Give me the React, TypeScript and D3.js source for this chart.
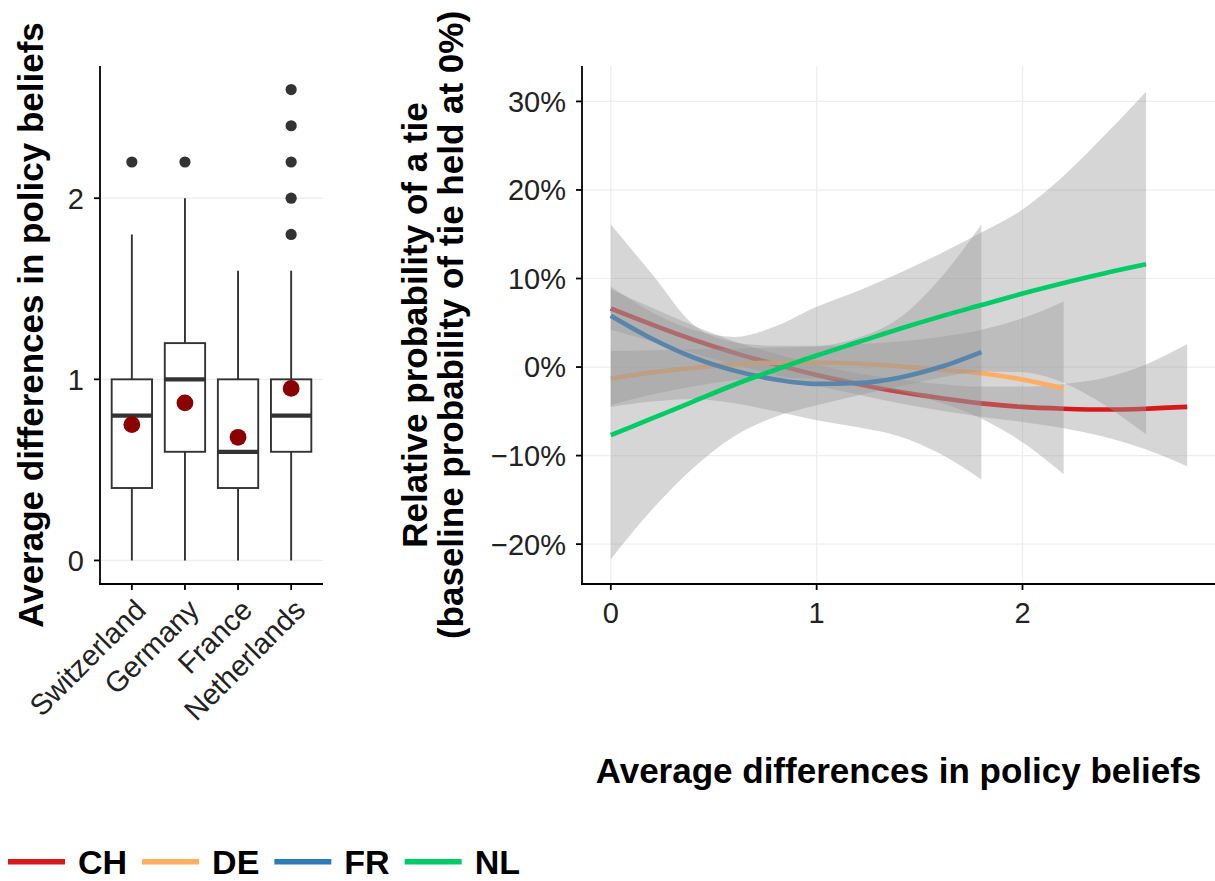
import React from "react";
import * as d3 from "d3";

// ---- left panel: boxplots ----
const countries = ["Switzerland", "Germany", "France", "Netherlands"];
const boxQ1 = [0.4, 0.6, 0.4, 0.6];
const boxMedian = [0.8, 1.0, 0.6, 0.8];
const boxQ3 = [1.0, 1.2, 1.0, 1.0];
const whiskerLow = [0, 0, 0, 0];
const whiskerHigh = [1.8, 2.0, 1.6, 1.6];
const outliers = [[2.2], [2.2], [], [1.8, 2.0, 2.2, 2.4, 2.6]];
const means = [0.75, 0.87, 0.68, 0.95];
const leftTicks = [0, 1, 2];

// ---- right panel: smoothed fits ----
const seriesNames = ["CH", "DE", "FR", "NL"];
const seriesColors = ["#D7191C", "#FDAE61", "#2C7BB6", "#00CC66"];

const xCH = [0, 0.2, 0.4, 0.6, 0.8, 1.0, 1.2, 1.4, 1.6, 1.8, 2.0, 2.2, 2.4, 2.6, 2.8];
const fitCH = [6.6, 4.8, 3.1, 1.6, 0.3, -0.9, -1.9, -2.8, -3.5, -4.1, -4.5, -4.7, -4.8, -4.7, -4.5];
const lowCH = [4.2, 2.9, 1.6, 0.3, -0.9, -2.1, -3.1, -4.1, -4.9, -5.6, -6.2, -6.9, -7.9, -9.3, -11.2];
const highCH = [8.8, 6.7, 4.7, 2.9, 1.5, 0.3, -0.7, -1.4, -1.9, -2.2, -2.2, -1.9, -1.2, 0.3, 2.6];

const xDE = [0, 0.2, 0.4, 0.6, 0.8, 1.0, 1.2, 1.4, 1.6, 1.8, 2.0, 2.2];
const fitDE = [-1.3, -0.6, -0.1, 0.3, 0.5, 0.5, 0.4, 0.1, -0.3, -0.7, -1.4, -2.4];
const lowDE = [-4.3, -3.1, -2.2, -1.5, -1.2, -1.3, -1.8, -2.7, -4.0, -5.8, -8.5, -12.1];
const highDE = [1.8, 1.9, 2.0, 2.1, 2.2, 2.3, 2.6, 2.9, 3.4, 4.2, 5.5, 7.4];

const xFR = [0, 0.2, 0.4, 0.6, 0.8, 1.0, 1.2, 1.4, 1.6, 1.8];
const fitFR = [5.8, 3.2, 1.1, -0.4, -1.4, -1.9, -1.8, -1.2, 0.0, 1.7];
const lowFR = [-4.5, -3.9, -3.6, -4.1, -5.0, -6.0, -6.8, -7.8, -9.8, -12.7];
const highFR = [16.1, 10.5, 4.8, 2.8, 2.4, 2.4, 3.3, 5.5, 10.0, 16.1];

const xNL = [0, 0.2, 0.4, 0.6, 0.8, 1.0, 1.2, 1.4, 1.6, 1.8, 2.0, 2.2, 2.4, 2.6];
const fitNL = [-7.7, -5.8, -3.9, -2.0, -0.3, 1.3, 2.8, 4.3, 5.7, 7.0, 8.3, 9.5, 10.6, 11.6];
const lowNL = [-21.7, -16.1, -11.4, -7.8, -5.6, -4.3, -3.2, -2.2, -1.2, -0.5, -0.6, -1.8, -4.3, -7.6];
const highNL = [9.1, 6.2, 4.2, 3.4, 4.6, 6.8, 8.6, 10.6, 12.8, 15.2, 17.8, 21.6, 26.2, 31.1];

const rightXTicks = [0, 1, 2];
const rightYTicks = [-20, -10, 0, 10, 20, 30];

const FONT = "'Liberation Sans', Arial, Helvetica, sans-serif";

type Row = { x: number; fit: number; lo: number; hi: number };

const zipSeries = (xs: number[], fit: number[], lo: number[], hi: number[]): Row[] =>
  xs.map((x, i) => ({ x, fit: fit[i], lo: lo[i], hi: hi[i] }));

const series = [
  zipSeries(xCH, fitCH, lowCH, highCH),
  zipSeries(xDE, fitDE, lowDE, highDE),
  zipSeries(xFR, fitFR, lowFR, highFR),
  zipSeries(xNL, fitNL, lowNL, highNL),
];

const pctLabel = (v: number) => (v < 0 ? "\u2212" + Math.abs(v) : String(v)) + "%";

// text width helper for the legend layout
const measure = (txt: string, font: string) => {
  const ctx = document.createElement("canvas").getContext("2d");
  if (!ctx) return txt.length * 20;
  ctx.font = font;
  return ctx.measureText(txt).width;
};

export default function App() {
  const W = 1215;
  const H = 881;
  const tickSize = 29;
  const titleSize = 35;
  const legendSize = 34;

  // left panel frame
  const lx0 = 100, lx1 = 323, top = 66, bottom = 584;
  const xL = d3.scaleLinear().domain([0.4, 4.6]).range([lx0, lx1]);
  const yL = d3.scaleLinear().domain([-0.13, 2.73]).range([bottom, top]);
  const boxHalf = 0.38;

  // right panel frame
  const rx0 = 582, rx1 = 1216;
  const xR = d3.scaleLinear().domain([-0.14, 2.94]).range([rx0, rx1]);
  const yR = d3.scaleLinear().domain([-24.5, 34]).range([bottom, top]);

  const area = d3
    .area<Row>()
    .x((d) => xR(d.x))
    .y0((d) => yR(d.lo))
    .y1((d) => yR(d.hi))
    .curve(d3.curveMonotoneX);
  const line = d3
    .line<Row>()
    .x((d) => xR(d.x))
    .y((d) => yR(d.fit))
    .curve(d3.curveMonotoneX);

  const grid = "#EDEDED";
  const ink = "#333333";

  // legend positions
  const legendFont = `bold ${legendSize}px 'Liberation Sans'`;
  const legendBase = 874;
  let lxPos = 8;
  const legendItems = seriesNames.map((s, i) => {
    const item = { s, i, x: lxPos };
    lxPos += 57 + 13 + measure(s, legendFont) + 15;
    return item;
  });

  return (
    <svg
      width={W}
      height={H}
      style={{ position: "absolute", left: 0, top: 0, background: "#fff" }}
      fontFamily={FONT}
    >
      {/* ===== left panel ===== */}
      {leftTicks.map((t) => (
        <line key={"lg" + t} x1={lx0} x2={lx1} y1={yL(t)} y2={yL(t)} stroke={grid} strokeWidth={1.2} />
      ))}
      {countries.map((c, i) => {
        const cx = xL(i + 1);
        const bx0 = xL(i + 1 - boxHalf);
        const bx1 = xL(i + 1 + boxHalf);
        return (
          <g key={c}>
            <line x1={cx} x2={cx} y1={yL(whiskerLow[i])} y2={yL(boxQ1[i])} stroke={ink} strokeWidth={1.9} />
            <line x1={cx} x2={cx} y1={yL(boxQ3[i])} y2={yL(whiskerHigh[i])} stroke={ink} strokeWidth={1.9} />
            <rect
              x={bx0}
              y={yL(boxQ3[i])}
              width={bx1 - bx0}
              height={yL(boxQ1[i]) - yL(boxQ3[i])}
              fill="#fff"
              stroke={ink}
              strokeWidth={1.9}
            />
            <line x1={bx0} x2={bx1} y1={yL(boxMedian[i])} y2={yL(boxMedian[i])} stroke={ink} strokeWidth={4.2} />
            {outliers[i].map((o) => (
              <circle key={o} cx={cx} cy={yL(o)} r={5.6} fill={ink} />
            ))}
            <circle cx={cx} cy={yL(means[i])} r={8.4} fill="#8B0000" />
          </g>
        );
      })}
      {/* left axes */}
      <line x1={lx0} x2={lx0} y1={top} y2={bottom + 0.9} stroke="#000" strokeWidth={1.8} />
      <line x1={lx0 - 0.9} x2={lx1} y1={bottom} y2={bottom} stroke="#000" strokeWidth={1.8} />
      {leftTicks.map((t) => (
        <g key={"lt" + t}>
          <line x1={lx0 - 6} x2={lx0} y1={yL(t)} y2={yL(t)} stroke="#000" strokeWidth={1.8} />
          <text x={lx0 - 16} y={yL(t)} dy="0.36em" textAnchor="end" fontSize={tickSize} fill="#222">
            {t}
          </text>
        </g>
      ))}
      {countries.map((c, i) => (
        <g key={"lx" + c}>
          <line x1={xL(i + 1)} x2={xL(i + 1)} y1={bottom} y2={bottom + 6} stroke="#000" strokeWidth={1.8} />
          <text
            transform={`translate(${xL(i + 1) + 1},${bottom + 13}) rotate(-45)`}
            textAnchor="end"
            dy="0.72em"
            fontSize={tickSize}
            fill="#222"
          >
            {c}
          </text>
        </g>
      ))}
      <text
        transform={`translate(43,${(top + bottom) / 2}) rotate(-90)`}
        textAnchor="middle"
        fontSize={titleSize}
        fontWeight="bold"
        fill="#000"
      >
        Average differences in policy beliefs
      </text>

      {/* ===== right panel ===== */}
      {rightYTicks.map((t) => (
        <line key={"rg" + t} x1={rx0} x2={rx1} y1={yR(t)} y2={yR(t)} stroke={grid} strokeWidth={1.2} />
      ))}
      {rightXTicks.map((t) => (
        <line key={"rgx" + t} x1={xR(t)} x2={xR(t)} y1={top} y2={bottom} stroke={grid} strokeWidth={1.2} />
      ))}
      {series.map((rows, i) => (
        <g key={seriesNames[i]}>
          <path d={area(rows) ?? ""} fill="#999999" fillOpacity={0.4} stroke="none" />
          <path d={line(rows) ?? ""} fill="none" stroke={seriesColors[i]} strokeWidth={4.6} />
        </g>
      ))}
      <line x1={rx0} x2={rx0} y1={top} y2={bottom + 0.9} stroke="#000" strokeWidth={1.8} />
      <line x1={rx0 - 0.9} x2={rx1} y1={bottom} y2={bottom} stroke="#000" strokeWidth={1.8} />
      {rightYTicks.map((t) => (
        <g key={"ry" + t}>
          <line x1={rx0 - 6} x2={rx0} y1={yR(t)} y2={yR(t)} stroke="#000" strokeWidth={1.8} />
          <text x={rx0 - 16} y={yR(t)} dy="0.36em" textAnchor="end" fontSize={tickSize} fill="#222">
            {pctLabel(t)}
          </text>
        </g>
      ))}
      {rightXTicks.map((t) => (
        <g key={"rx" + t}>
          <line x1={xR(t)} x2={xR(t)} y1={bottom} y2={bottom + 6} stroke="#000" strokeWidth={1.8} />
          <text x={xR(t)} y={623} textAnchor="middle" fontSize={tickSize} fill="#222">
            {t}
          </text>
        </g>
      ))}
      <text
        transform={`translate(427,${(top + bottom) / 2}) rotate(-90)`}
        textAnchor="middle"
        fontSize={titleSize}
        fontWeight="bold"
        fill="#000"
      >
        <tspan x={0} dy={0}>Relative probability of a tie</tspan>
        <tspan x={0} dy={36}>(baseline probability of tie held at 0%)</tspan>
      </text>
      <text x={(rx0 + 1215) / 2} y={783} textAnchor="middle" fontSize={titleSize} fontWeight="bold" fill="#000">
        Average differences in policy beliefs
      </text>

      {/* ===== legend ===== */}
      {legendItems.map(({ s, i, x }) => (
        <g key={"lg" + s}>
          <line
            x1={x}
            x2={x + 57}
            y1={legendBase - 0.36 * legendSize}
            y2={legendBase - 0.36 * legendSize}
            stroke={seriesColors[i]}
            strokeWidth={5.5}
          />
          <text x={x + 70} y={legendBase} fontSize={legendSize} fontWeight="bold" fill="#000">
            {s}
          </text>
        </g>
      ))}
    </svg>
  );
}
